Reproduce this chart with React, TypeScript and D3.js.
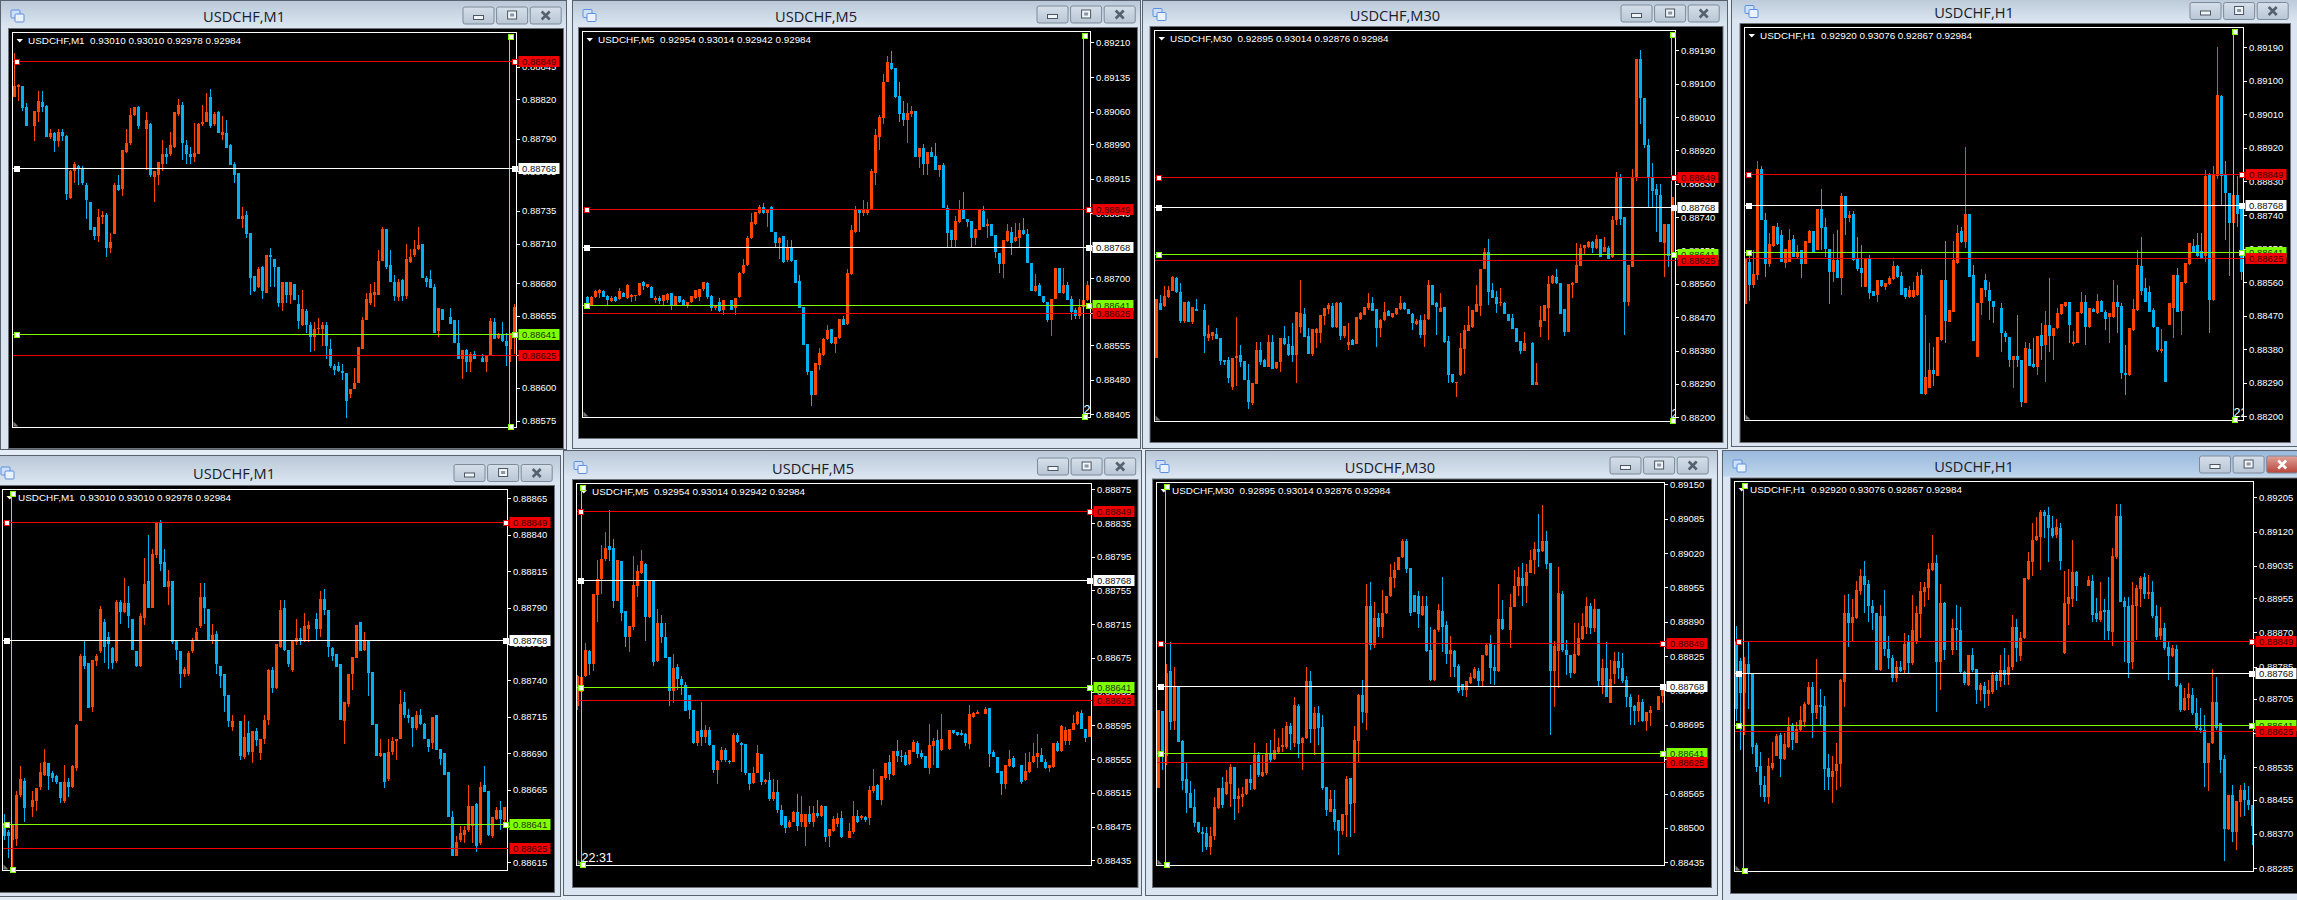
import { useEffect, useRef } from "react";
import * as d3 from "d3";

// prices are in points above 0.88000, rows are open, high, low, close. null = nothing visible in that slot
type Bar = number[] | null;

const levels = [
  { value: 849, color: "#f00000", text: "#3a0000" },
  { value: 768, color: "#ffffff", text: "#101010" },
  { value: 641, color: "#7fff00", text: "#1d3300" },
  { value: 625, color: "#f00000", text: "#3a0000" },
];

const headerM1 = "USDCHF,M1  0.93010 0.93010 0.92978 0.92984";
const headerM5 = "USDCHF,M5  0.92954 0.93014 0.92942 0.92984";
const headerM30 = "USDCHF,M30  0.92895 0.93014 0.92876 0.92984";
const headerH1 = "USDCHF,H1  0.92920 0.93076 0.92867 0.92984";

const ticksA = [845, 820, 790, 765, 735, 710, 680, 655, 625, 600, 575];
const ticksB = [1210, 1135, 1060, 990, 915, 840, 770, 700, 625, 555, 480, 405];
const ticksC = [1190, 1100, 1010, 920, 830, 740, 650, 560, 470, 380, 290, 200];
const ticksD = [1190, 1100, 1010, 920, 830, 740, 650, 560, 470, 380, 290, 200];
const ticksE = [865, 840, 815, 790, 765, 740, 715, 690, 665, 640, 615];
const ticksF = [875, 835, 795, 755, 715, 675, 635, 595, 555, 515, 475, 435];
const ticksG = [1150, 1085, 1020, 955, 890, 825, 760, 695, 630, 565, 500, 435];
const ticksH = [1205, 1120, 1035, 955, 870, 785, 705, 620, 535, 455, 370, 285];

const datesA = ["21 Dec 2020", "21 Dec 14:43", "21 Dec 14:59", "21 Dec 15:15", "21 Dec 15:31", "21 Dec 15:47", "21 Dec 16:03", "21 Dec 16:19"];
const datesB = ["21 Dec 2020", "21 Dec 07:25", "21 Dec 08:45", "21 Dec 10:05", "21 Dec 11:25", "21 Dec 12:45", "21 Dec 14:05", "21 Dec 15:25"];
const datesC = ["17 Dec 2020", "17 Dec 08:00", "17 Dec 16:00", "18 Dec 00:00", "18 Dec 08:00", "18 Dec 16:00", "21 Dec 00:00", "21 Dec 08:00", "21 Dec 16:00"];
const datesD = ["14 Dec 2020", "15 Dec 06:00", "15 Dec 22:00", "16 Dec 14:00", "17 Dec 06:00", "17 Dec 22:00", "18 Dec 14:00", "21 Dec 06:00"];
const datesE = ["21 Dec 2020", "21 Dec 16:45", "21 Dec 17:01", "21 Dec 17:17", "21 Dec 17:33", "21 Dec 17:49", "21 Dec 18:05", "21 Dec 18:21"];
const datesF = ["21 Dec 2020", "21 Dec 17:45", "21 Dec 19:05", "21 Dec 20:25", "21 Dec 21:45", "21 Dec 23:05", "22 Dec 00:25", "22 Dec 01:45", "22 Dec 03:05"];
const datesG = ["21 Dec 2020", "21 Dec 23:30", "22 Dec 07:30", "22 Dec 15:30", "22 Dec 23:30", "23 Dec 07:30", "23 Dec 15:30", "23 Dec 23:30"];
const datesH = ["21 Dec 2020", "22 Dec 06:00", "22 Dec 22:00", "23 Dec 14:00", "24 Dec 06:00", "24 Dec 22:00", "28 Dec 14:00", "29 Dec 06:00", "29 Dec 22:00"];

const barsA: Bar[] = [
  [822,855,822,830],[829,832,819,831],[830,830,811,813],[814,817,800,800],null,[800,811,788,811],[810,826,803,819],[818,826,810,814],[815,816,791,791],[791,797,790,794],
  [794,795,780,788],[788,797,784,795],[795,797,788,792],[792,793,743,748],[745,766,744,765],[765,772,756,771],[769,770,755,767],[768,769,755,756],[755,756,729,743],[742,742,720,720],
  [723,723,713,716],[716,736,711,730],[730,735,725,732],[732,733,700,707],[707,718,703,711],[717,756,717,755],[755,762,750,751],[752,781,746,781],[780,797,779,787],[787,813,785,808],
  [808,814,807,814],[814,815,797,800],null,[797,810,766,804],[801,802,761,762],[761,765,742,765],[762,772,755,772],[771,789,765,778],[778,783,771,776],[778,795,777,785],
  [784,810,783,810],[809,820,807,816],[816,818,774,787],[785,789,771,778],[778,784,771,776],[776,802,772,779],[778,802,778,801],[801,816,800,803],[803,825,803,810],[822,828,798,800],
  [801,810,800,809],[810,811,794,794],[793,807,789,795],[794,804,783,783],[785,786,770,770],[771,772,756,762],[764,764,729,729],[729,738,722,731],[732,735,714,717],[718,718,671,684],
  [685,685,673,674],[677,692,676,691],[692,693,668,674],[672,701,672,701],[701,707,677,700],[698,698,677,692],[692,692,662,665],[665,681,659,681],[681,681,665,671],[671,681,664,681],
  [679,679,667,667],[664,671,645,651],[648,675,647,660],[659,660,642,648],[648,650,627,639],[639,650,628,645],[645,653,640,646],[645,650,632,648],[648,650,622,632],[630,637,615,617],
  [617,618,610,614],[617,620,612,613],[613,618,606,611],[611,611,577,590],[595,599,592,599],[599,615,599,604],[604,631,604,631],[630,654,630,652],[652,672,652,668],[665,679,663,672],
  [671,681,662,673],[671,705,671,697],[697,723,697,721],[721,721,691,692],[694,705,681,681],[681,686,666,670],[669,683,666,681],[682,683,666,670],[670,710,668,698],[696,706,695,700],
  [701,713,700,706],[706,723,705,709],[710,710,684,684],[684,685,677,681],[683,690,676,676],[677,679,642,642],[643,661,639,661],[660,660,652,652],null,[654,661,649,649],
  [652,652,634,634],[634,652,622,622],[622,629,607,629],[629,630,612,620],[620,627,612,626],[626,628,622,622],null,[623,626,620,620],[620,625,612,625],[625,653,625,651],
  [650,653,637,637],[638,642,637,641],[641,650,635,636],[636,642,617,632],[630,642,620,642],[639,664,626,662],
];

const barsB: Bar[] = [
  null,[658,661,640,645],[642,660,642,658],[658,674,657,671],[667,676,656,673],[672,675,658,658],[661,663,642,653],[650,660,647,657],[659,662,647,651],[654,678,652,671],
  [667,670,658,658],[656,686,655,685],[658,665,648,663],[660,664,650,664],[664,690,662,689],[691,693,675,682],[681,686,678,686],[681,683,656,656],[653,660,645,657],[656,660,644,650],
  [650,664,640,663],[652,667,645,665],[667,668,631,642],[642,660,640,660],[660,661,645,649],[652,655,640,642],[641,649,636,649],[649,660,645,660],[656,675,655,674],[658,676,650,676],
  [676,692,672,692],[690,692,655,658],[660,663,628,634],[634,642,630,642],[647,657,626,628],[631,652,620,652],null,[652,653,630,631],[634,657,620,657],[658,712,656,710],
  [710,740,708,728],[728,790,726,787],[787,840,785,822],[817,842,815,842],[840,858,838,853],[853,862,838,840],[840,850,811,847],[854,856,800,800],[799,799,764,775],[775,788,741,787],
  [790,790,732,734],[738,782,735,768],[768,782,735,736],[739,739,689,689],[694,707,636,636],[638,638,555,555],[557,557,490,497],[499,499,422,447],[447,515,447,515],[512,548,501,537],
  [533,570,531,569],[567,598,565,588],[589,590,558,559],[558,573,537,573],[570,611,569,611],[611,617,598,598],[600,719,598,710],[709,815,707,804],[800,856,798,847],[847,848,800,840],
  [840,869,834,847],[840,865,836,847],[847,935,847,932],[927,1022,901,1010],[1006,1052,977,1048],[1046,1142,1033,1124],[1124,1181,1124,1168],[1166,1191,1150,1152],[1154,1154,1090,1091],[1093,1125,1038,1055],
  [1058,1082,1029,1042],[1042,1078,993,1058],[1055,1072,1048,1062],[1062,1062,961,961],[961,981,937,981],[981,991,923,947],[947,973,923,973],[973,984,961,961],[965,992,934,934],[934,945,919,945],
  [945,948,851,851],[851,858,764,798],[804,804,768,782],[782,834,768,823],[822,869,820,849],[849,886,828,828],[828,828,811,822],[824,824,764,787],[787,806,771,806],[804,849,804,849],
  [846,856,811,811],[813,827,786,817],[817,817,790,791],[792,792,743,757],[755,755,710,730],[730,782,699,782],[779,817,778,802],[800,811,750,775],[779,818,777,788],[786,818,768,804],
  [804,829,794,795],[795,805,732,732],[732,732,672,672],[671,709,670,683],[684,689,660,660],[660,660,645,647],[649,649,604,609],[610,655,575,654],[654,722,654,722],[722,722,667,667],
  [667,722,666,685],[685,691,652,652],[655,661,608,627],[630,634,611,618],[618,654,611,638],[638,654,636,652],[652,694,650,685],
];

const barsC: Bar[] = [
  [361,518,361,518],[509,530,490,490],[500,554,498,527],[525,554,523,543],[542,581,540,578],[576,579,535,537],[537,561,455,461],[461,512,455,512],[512,514,458,458],[458,497,452,497],
  [491,518,486,488],null,[489,505,374,418],[413,449,407,425],[419,429,408,429],[425,440,410,410],[414,414,340,352],[354,355,340,350],[355,364,292,305],[283,360,274,359],
  [361,470,285,365],[367,395,335,350],[353,353,301,301],[301,344,222,240],[238,293,234,292],[290,404,290,382],[382,404,341,350],[355,358,335,337],[337,422,335,404],[404,422,330,330],
  [332,350,330,350],[348,415,323,415],[415,446,395,398],[397,419,365,368],[392,455,350,368],[368,485,293,485],[443,570,427,482],[480,494,417,417],[419,440,370,372],[371,437,365,437],
  [427,440,386,437],[428,476,400,476],[474,494,450,494],[491,507,480,502],[500,508,440,443],[443,510,440,509],[507,512,408,419],[419,446,415,446],[395,455,382,404],[408,410,395,395],
  [399,470,397,470],[465,483,463,481],[476,497,475,497],[494,535,490,509],[509,524,488,488],[491,491,390,440],[440,465,416,462],[462,512,460,485],[487,490,472,472],[470,482,468,481],
  [479,495,477,494],[492,527,490,509],[509,510,490,491],[491,491,478,479],[480,482,435,455],[452,465,450,460],[462,476,413,422],[422,480,390,462],[464,570,462,558],[558,558,503,503],
  [507,510,422,497],[485,535,483,494],[497,497,400,404],[407,419,292,314],[317,317,292,296],[292,296,256,296],[314,427,312,386],[384,448,318,435],[434,500,432,449],[444,490,442,489],
  [485,557,483,505],[500,601,473,601],[601,658,600,647],[647,681,503,539],[543,561,522,522],[524,540,482,505],[509,548,500,512],[509,510,478,479],[480,480,460,461],[467,480,437,437],
  [440,440,404,404],[407,407,372,380],[380,431,378,400],null,[401,402,287,287],[287,346,286,294],[444,500,417,462],[460,503,459,502],[494,581,408,559],[561,584,560,581],
  [579,599,560,561],[563,563,480,480],[491,491,418,431],[431,560,431,559],[558,566,521,562],[563,669,561,611],[609,667,607,656],[656,665,638,665],[660,676,658,674],[674,676,642,656],
  [656,692,654,680],[680,680,633,633],[647,686,645,660],[658,662,626,626],[632,743,630,732],[732,861,719,846],[849,856,719,735],[741,741,422,512],[512,612,500,612],[606,870,606,849],
  [849,1167,838,1166],[1166,1191,991,1060],[1060,1060,927,934],[934,950,766,849],[849,885,764,811],[815,830,700,800],[800,829,672,672],[669,722,578,721],[721,722,606,635],[635,793,633,793],
];

const barsD: Bar[] = [
  [501,624,501,624],[613,644,510,552],[552,646,545,582],[579,885,567,863],[863,872,726,727],[727,745,575,608],[608,691,600,662],[657,711,655,711],[707,718,660,661],[686,700,615,615],
  [610,650,597,650],[615,703,613,673],[676,686,628,628],[628,659,626,642],[645,646,570,608],[608,670,608,670],[666,701,665,698],[696,696,642,642],[646,755,646,755],[755,810,646,704],
  [707,733,628,650],[650,650,501,588],[588,688,561,619],[619,700,570,570],[572,798,525,791],[791,792,686,731],[732,751,722,741],[742,751,618,619],[621,680,590,595],[598,659,547,585],
  [547,624,547,623],[623,632,516,531],[535,536,522,522],[525,565,507,565],[565,565,548,549],[546,557,540,557],[555,576,553,570],[568,616,567,604],[604,606,570,573],[576,588,525,525],
  [543,545,515,521],[519,549,517,539],[521,561,518,539],[525,588,523,576],[579,594,261,261],[261,472,258,305],[277,396,275,324],[324,387,280,314],[308,412,308,412],[405,566,403,566],
  [566,670,396,457],[454,485,452,485],[481,671,480,619],[610,712,608,691],[697,708,665,668],[668,923,651,743],[743,743,575,575],[579,606,403,403],[360,505,358,505],[505,545,471,543],
  [567,582,520,538],[539,561,458,509],[509,510,449,492],null,[490,503,373,423],[423,430,400,414],[414,414,333,350],[350,362,275,362],[362,472,333,350],[351,351,224,239],
  [237,400,236,382],[380,396,335,336],[340,409,330,333],[333,415,311,415],[418,449,351,389],[391,483,293,445],[445,570,373,415],[415,436,351,436],[436,490,435,476],[474,501,472,501],
  [496,508,494,508],[508,508,396,445],[394,430,388,400],[398,481,396,481],[476,534,474,507],[507,525,391,440],[440,490,438,490],[488,490,480,481],[476,528,474,509],[509,512,480,481],
  [481,485,432,460],[467,478,396,476],[467,567,465,507],[507,552,423,494],[496,505,300,315],[317,391,257,311],[311,436,309,436],[431,516,429,487],[485,646,483,606],[604,680,525,537],
  [543,570,507,508],[534,549,480,481],[485,490,436,439],[439,439,372,379],[375,433,369,380],[403,403,293,293],[445,503,444,503],[490,579,409,579],[579,597,480,481],[482,561,417,561],
  [557,610,555,610],[608,666,606,665],[658,675,640,642],[659,691,628,630],[644,691,625,626],[630,860,615,845],[847,854,423,512],[512,872,510,847],[845,1191,836,1062],[1060,1061,767,845],
  [847,885,673,800],[798,798,576,719],[719,811,606,794],[794,845,707,744],[762,762,567,588],
];

const barsE: Bar[] = [
  [642,648,630,633],[636,637,618,633],[630,641,612,641],[631,664,626,661],[661,681,660,672],[671,673,643,652],null,[653,664,646,658],[657,666,650,666],[667,683,665,677],
  [675,693,674,684],[683,683,665,674],[676,678,670,673],[674,675,669,670],[670,670,656,659],[657,682,656,670],[670,673,660,667],[667,682,666,681],[680,710,678,709],[712,758,712,757],
  [757,768,748,750],[752,752,721,721],[722,754,718,754],[753,758,750,757],[760,791,759,789],[780,782,752,763],[770,773,748,765],[762,763,748,752],[753,795,752,794],[794,795,779,787],
  [787,810,786,793],[793,805,776,784],[782,782,761,761],[760,760,749,750],[750,786,749,784],[783,824,778,806],[808,840,790,790],[790,830,790,827],[826,849,824,848],[849,850,815,820],
  [821,830,804,804],[804,816,792,808],[808,808,765,766],[767,767,754,761],[760,760,735,744],[744,749,742,748],[744,760,743,759],[760,769,759,767],[768,776,767,773],[777,807,776,797],
  [797,807,779,790],[789,789,768,768],[768,779,765,771],[772,774,744,751],[750,750,735,743],[744,744,718,729],[730,730,708,712],[708,716,705,712],null,[712,712,685,688],
  [687,716,686,701],[704,712,689,691],[691,705,683,705],[705,707,695,699],[690,700,685,700],[700,716,696,713],[713,748,709,747],[747,749,731,735],[735,765,734,765],[763,795,762,788],
  [790,795,760,761],[761,761,749,751],[747,767,746,767],[766,782,764,769],[769,776,764,767],[768,786,766,777],[775,781,766,778],null,[782,786,768,775],[775,801,770,796],
  [796,803,785,788],[788,788,756,763],[762,763,753,757],[758,758,749,749],[751,751,713,713],[712,725,696,725],[724,744,722,744],[744,756,733,756],[755,778,755,778],[780,780,760,760],
  [761,773,760,768],[767,767,729,745],[746,746,709,709],[710,710,688,688],[688,700,687,690],[690,690,666,670],[672,700,671,691],[691,701,689,698],[698,700,685,700],[700,733,700,724],
  [725,732,714,716],[716,720,711,714],[715,715,694,707],[707,719,706,716],[716,720,709,710],[710,711,700,700],[700,700,691,694],[697,715,693,715],[716,716,692,692],[693,693,682,686],
  [690,690,675,675],[677,677,646,646],[646,650,619,619],[619,633,619,629],[630,640,629,635],[634,640,628,637],[637,668,636,654],[640,654,628,654],[655,656,622,626],[628,670,627,667],
  [668,681,663,663],[664,664,633,634],[633,646,632,646],[645,653,644,651],[651,657,637,645],[644,653,640,653],
];

const barsF: Bar[] = [
  [618,655,613,653],[635,654,617,652],[653,693,652,684],[683,684,655,668],[668,751,660,751],[750,791,718,769],[769,809,751,792],[792,824,790,805],[808,850,790,803],[805,816,734,743],
  [743,791,742,791],[790,790,719,728],[731,731,688,700],[700,713,682,713],[712,796,708,761],[760,785,747,778],[776,803,775,790],[787,788,695,724],[724,767,722,767],[766,766,665,670],
  [671,733,670,717],[716,726,693,700],[700,716,675,675],[676,676,618,636],[636,680,621,663],[664,668,637,650],[650,653,631,643],[643,647,612,612],[631,631,603,613],[613,613,573,574],
  [574,588,570,588],[590,623,570,581],[581,595,574,590],[590,593,570,572],[572,572,539,542],[542,554,526,553],[554,569,552,566],[566,568,552,554],[553,554,549,551],[552,586,551,584],
  [584,586,574,575],[574,575,540,572],[573,573,536,538],[539,539,518,526],[527,546,526,538],[539,572,538,562],[561,561,524,528],[528,531,526,530],[530,540,505,508],[508,531,505,516],
  [516,530,491,495],[495,501,476,477],[488,488,467,473],[475,483,473,481],[481,493,480,492],[492,514,470,476],[481,511,475,490],[475,490,452,490],[490,499,478,481],[481,499,475,491],
  [491,507,485,487],[488,501,486,499],[499,499,457,463],[464,472,451,472],[470,487,469,484],[478,491,474,485],[485,493,462,463],null,[462,479,461,470],[468,505,466,488],
  [488,495,479,480],[485,489,483,488],[486,488,480,483],[485,523,477,518],[517,543,515,523],[524,526,506,507],[507,535,500,535],[533,550,530,550],[551,560,530,537],[536,565,535,565],
  [565,578,552,559],[559,566,552,557],[560,564,547,548],[549,566,548,566],[564,578,563,575],[574,577,556,561],[562,566,555,558],[559,559,545,545],[545,597,537,572],[570,580,548,577],
  [578,590,545,545],[566,609,565,579],null,[567,589,566,589],[590,590,585,586],[587,587,583,584],[586,590,583,584],[585,586,570,574],[573,619,567,609],[605,611,604,610],
  [609,613,608,611],null,[609,617,608,615],[616,616,546,561],[563,566,557,558],[558,558,539,539],[541,541,512,525],[525,548,519,548],[547,566,546,555],[556,559,545,546],
  null,[548,548,526,528],[530,562,529,541],[540,563,539,552],[552,574,550,559],[557,585,544,562],[560,568,551,551],[551,555,543,545],[544,548,540,548],[546,574,545,574],
  [574,577,564,565],[565,596,564,594],[576,593,572,590],[576,591,572,591],[590,607,589,598],[597,612,596,611],[610,613,591,591],[591,591,575,580],[581,606,581,606],
];

const barsG: Bar[] = [
  [575,724,575,724],[721,722,610,638],[636,811,619,794],[796,852,685,701],[703,805,685,768],[767,767,663,663],[664,667,572,588],[592,622,528,567],[567,588,537,537],[539,573,502,510],
  [512,512,490,492],[492,502,455,489],[490,501,458,463],[463,501,449,485],[485,559,477,539],[537,575,535,575],[575,597,537,543],[565,610,563,586],[584,621,540,615],[616,616,515,555],
  [555,575,528,560],[558,577,540,565],[565,592,563,592],[592,619,572,585],[573,660,572,638],[638,644,597,600],[598,638,597,606],[603,661,601,642],[642,666,622,629],[630,687,628,647],
  [644,670,642,654],[653,689,644,657],[654,701,650,693],[693,698,647,678],[660,747,654,733],[731,735,632,659],[660,672,610,671],[670,804,668,778],[778,797,660,688],[688,729,638,717],
  [717,731,657,689],[690,714,572,576],[578,578,522,534],[530,572,530,555],[535,572,496,512],[515,515,449,495],[495,526,486,526],[525,598,483,592],[594,594,482,545],[547,692,490,666],
  [664,753,625,752],[751,780,698,720],[717,962,685,920],[919,965,837,846],[846,928,840,898],[898,906,862,881],[880,951,860,906],[906,939,905,939],[938,999,937,974],[973,1003,953,988],
  [988,1012,987,1012],[1012,1046,1011,1043],[1043,1046,982,989],[991,991,900,906],[940,941,908,908],[938,948,879,904],[903,938,900,920],[919,938,833,834],[836,881,778,779],[779,876,778,875],
  [874,923,871,912],[911,975,833,881],[884,892,811,829],[829,863,786,837],[835,837,786,805],[806,811,755,759],[772,773,750,760],[760,777,748,777],[775,794,773,786],[783,804,782,800],
  [797,802,768,778],[778,827,769,827],[827,849,826,846],[847,865,772,802],[805,846,770,796],[797,962,795,895],[895,931,875,876],null,[875,943,841,918],[918,988,917,958],
  [957,994,938,975],[972,1001,920,958],[957,1000,925,984],[983,1026,982,1007],[1006,1041,981,1027],[1027,1094,994,1022],[1024,1111,1022,1043],[1043,1062,989,999],[1002,1002,675,797],[797,854,729,844],
  [835,993,764,944],[943,949,832,837],[836,856,789,827],[827,827,784,794],[794,887,791,829],[827,887,826,859],[858,907,856,882],[881,937,866,920],[920,926,866,879],[878,933,871,915],
  [914,914,767,777],[770,819,753,802],[802,851,747,747],[737,818,737,781],[792,833,773,815],[815,832,782,802],[802,830,775,777],[780,787,729,747],[748,754,695,729],[731,733,695,722],
  [722,751,701,738],[738,743,700,703],[703,719,684,719],[718,731,692,724],null,[724,750,723,750],[749,767,737,764],
];

const barsH: Bar[] = [
  [845,885,650,680],[798,805,578,720],[720,809,615,791],[792,846,679,767],[768,768,569,586],[590,594,524,536],[538,574,462,491],[491,513,450,460],[460,557,445,538],[532,598,527,545],
  [563,617,562,612],[615,619,512,555],[555,619,553,593],[586,660,582,635],[639,644,579,603],[596,648,594,629],[627,687,623,652],[648,698,636,692],[692,747,690,733],[733,746,607,669],
  [669,803,656,689],[689,728,640,685],[687,711,478,530],[532,569,478,512],[512,563,447,525],[526,596,478,544],[543,755,487,751],[746,962,685,917],[917,964,834,893],[893,952,847,907],
  [906,998,902,975],[972,1028,963,1010],[1010,1047,917,987],[989,1000,896,935],[935,949,875,917],[917,919,776,776],[776,938,775,911],[911,975,810,828],[829,860,780,805],[807,814,747,756],
  [756,798,747,785],[783,799,772,775],[776,869,768,842],[845,863,768,793],[794,962,790,875],[846,935,842,917],[915,995,855,972],[970,995,933,983],[981,1041,950,1026],[1024,1111,1022,1041],
  [1041,1061,673,797],[797,991,727,942],[942,946,801,826],null,[826,904,813,880],[880,938,826,876],[876,932,768,772],[772,775,739,745],[739,813,737,813],[813,830,771,776],
  [778,780,693,727],[727,745,700,738],[737,747,683,717],[717,751,687,727],[722,772,718,764],[763,772,727,750],[750,813,735,776],[776,832,739,764],[764,813,739,785],[783,913,776,884],
  [884,904,797,830],[811,871,799,855],[855,1004,853,1004],[1002,1070,1000,1047],[1045,1142,1010,1100],[1098,1157,1096,1108],[1107,1173,1024,1169],[1169,1173,1105,1158],[1160,1182,1045,1130],[1130,1158,1105,1108],
  [1111,1152,1105,1132],[1130,1142,1024,1047],[818,1022,816,942],[940,1026,888,958],[953,1099,933,1020],[1020,1022,948,985],null,null,[985,1009,984,999],[997,1012,896,913],
  [917,954,896,904],[900,994,896,923],[926,952,851,921],[925,1008,851,874],[871,1080,837,1059],[1057,1188,1053,1158],[1158,1188,944,946],[948,958,797,933],[935,958,757,795],[797,995,780,937],
  [935,987,850,980],[977,1010,933,1004],[1008,1016,952,966],[964,1012,952,970],[969,998,906,910],[911,937,851,859],[860,932,851,880],[880,892,826,830],[834,846,752,811],[810,838,808,830],
  [828,838,735,736],[739,743,671,677],[677,731,675,706],[706,743,677,717],[714,731,664,669],[669,706,627,633],[633,681,620,627],[627,665,487,546],[545,596,477,596],[594,780,592,696],
  [696,760,627,632],[644,644,520,553],[555,565,303,382],[382,466,380,466],[466,491,350,375],[375,452,330,452],[450,491,412,478],[478,495,413,454],[454,488,429,441],[441,441,342,388],
];

const fmt = (v: number) => (0.88 + v / 100000).toFixed(5);
const step = 4; // one bar every 4 px, a date tick every 16 bars
const uiFont = "'Liberation Sans', Arial, sans-serif";

const panels = [
  { title: "USDCHF,M1", header: headerM1, bars: barsA, ticks: ticksA, dates: datesA, win: [0, 0, 566, 449], client: [9, 29, 563, 448], plot: [12.5, 32.5, 516.5, 427.5], firstBar: 13.9, yRef: [575, 420.7, 820, 99.3], vX: 509.5, clock: false, titleX: 244, titleY: 17, btn: [463, 7], active: false },
  { title: "USDCHF,M5", header: headerM5, bars: barsB, ticks: ticksB, dates: datesB, win: [572, 0, 1140, 448], client: [579, 28, 1137, 438], plot: [582.5, 31.5, 1090.5, 417.5], firstBar: 583.3, yRef: [405, 414.3, 1210, 42.3], vX: 1083.5, clock: true, titleX: 816, titleY: 16.5, btn: [1037, 6], active: false },
  { title: "USDCHF,M30", header: headerM30, bars: barsC, ticks: ticksC, dates: datesC, win: [1142, 0, 1727, 448], client: [1150.5, 27, 1722.5, 442], plot: [1154.5, 30.5, 1675.5, 421.5], firstBar: 1155.8, yRef: [200, 417.3, 1190, 50.3], vX: 1671.5, clock: true, titleX: 1395, titleY: 15.5, btn: [1621, 5], active: false },
  { title: "USDCHF,H1", header: headerH1, bars: barsD, ticks: ticksD, dates: datesD, win: [1731, -3, 2297, 446], client: [1740.5, 24, 2290, 442], plot: [1744.5, 27.5, 2243.5, 420.5], firstBar: 1745.4, yRef: [200, 416.3, 1190, 47.3], vX: 2233.5, clock: true, titleX: 1974, titleY: 12.5, btn: [2190, 2.5], active: false },
  { title: "USDCHF,M1", header: headerM1, bars: barsE, ticks: ticksE, dates: datesE, win: [-3, 455, 560, 896], client: [0, 486, 554, 892], plot: [2.5, 489.5, 507.5, 870.5], firstBar: 3.7, yRef: [615, 862.3, 865, 498.3], vX: 11.5, clock: false, titleX: 234, titleY: 474, btn: [454, 464.5], active: false },
  { title: "USDCHF,M5", header: headerM5, bars: barsF, ticks: ticksF, dates: datesF, win: [563, 450, 1141, 895], client: [573, 480, 1137.5, 887], plot: [576.5, 483.5, 1091.5, 865.5], firstBar: 577.3, yRef: [435, 860.3, 875, 489.3], vX: 581.5, clock: true, titleX: 813, titleY: 468.5, btn: [1037.5, 458], active: false },
  { title: "USDCHF,M30", header: headerM30, bars: barsG, ticks: ticksG, dates: datesG, win: [1145, 450, 1717, 895], client: [1153, 479.5, 1711, 887], plot: [1156.5, 482.5, 1664.5, 865.5], firstBar: 1157.7, yRef: [435, 862.3, 1150, 484.3], vX: 1165.5, clock: false, titleX: 1390, titleY: 467.5, btn: [1610, 457], active: false },
  { title: "USDCHF,H1", header: headerH1, bars: barsH, ticks: ticksH, dates: datesH, win: [1722, 450, 2300, 900], client: [1731, 478.5, 2297, 893], plot: [1734.5, 481.5, 2253.5, 871.5], firstBar: 1735.5, yRef: [285, 868, 1205, 497.3], vX: 1743.5, clock: false, titleX: 1974, titleY: 467, btn: [2199.5, 456], active: true },
];

export default function App() {
  const svgRef = useRef<SVGSVGElement | null>(null);

  useEffect(() => {
    if (!svgRef.current) return;
    const svg = d3.select(svgRef.current);
    svg.selectAll("*").remove();

    const defs = svg.append("defs");
    const grad = (id: string, a: string, b: string) => {
      const g = defs.append("linearGradient").attr("id", id).attr("x1", 0).attr("x2", 0).attr("y1", 0).attr("y2", 1);
      g.append("stop").attr("offset", "0%").attr("stop-color", a);
      g.append("stop").attr("offset", "100%").attr("stop-color", b);
    };
    grad("titleIdle", "#bac8d8", "#dbe6f1");
    grad("titleActive", "#9ab9dc", "#bdd4ec");
    grad("btnIdle", "#d5dfea", "#b9c6d5");
    grad("btnRed", "#e0a39a", "#b8453a");

    svg.append("rect").attr("width", 2297).attr("height", 900).attr("fill", "#e4edf6");

    panels.forEach((p, n) => {
      const [wl, wt, wr, wb] = p.win;
      const [cl, ct, cr, cb] = p.client;
      const [pl, pt, pr, pb] = p.plot;
      const root = svg.append("g").attr("font-family", uiFont);

      // window chrome
      root.append("rect").attr("x", wl + 0.5).attr("y", wt + 0.5).attr("width", wr - wl).attr("height", wb - wt)
        .attr("fill", "#dae5f1").attr("stroke", "#58626e");
      root.append("rect").attr("x", wl + 1).attr("y", wt + 1).attr("width", wr - wl - 1).attr("height", ct - wt - 3)
        .attr("fill", `url(#${p.active ? "titleActive" : "titleIdle"})`);
      root.append("text").attr("x", p.titleX).attr("y", p.titleY + 5).attr("text-anchor", "middle")
        .attr("font-family", "'Open Sans', sans-serif").attr("font-size", 14.6).attr("fill", "#17202b").text(p.title);

      // app icon
      const ix = wl + (n === 4 ? 4 : n === 3 ? 14 : 11);
      const iy = p.titleY - 7;
      root.append("rect").attr("x", ix).attr("y", iy).attr("width", 9).attr("height", 8).attr("rx", 1).attr("fill", "#cfe0f7").attr("stroke", "#5c8fe0");
      root.append("rect").attr("x", ix + 4).attr("y", iy + 4).attr("width", 9).attr("height", 8).attr("rx", 1).attr("fill", "#eaf2fd").attr("stroke", "#5c8fe0");

      // min / restore / close buttons
      [0, 1, 2].forEach((b) => {
        const bx = p.btn[0] + b * 33.6;
        const by = p.btn[1];
        const red = p.active && b === 2;
        root.append("rect").attr("x", bx).attr("y", by).attr("width", 31).attr("height", 17).attr("rx", 2)
          .attr("fill", `url(#${red ? "btnRed" : "btnIdle"})`).attr("stroke", "#7d8a99");
        const mx = bx + 15.5;
        const my = by + 8.5;
        if (b === 0) {
          root.append("rect").attr("x", mx - 5).attr("y", my).attr("width", 10).attr("height", 4).attr("fill", "#f2f5f8").attr("stroke", "#4a5663");
        } else if (b === 1) {
          root.append("rect").attr("x", mx - 4.5).attr("y", my - 4.5).attr("width", 9).attr("height", 8).attr("fill", "#f2f5f8").attr("stroke", "#4a5663");
          root.append("rect").attr("x", mx - 2).attr("y", my - 2).attr("width", 4).attr("height", 3).attr("fill", "#8a96a3");
        } else {
          root.append("path").attr("d", `M${mx - 4},${my - 4}L${mx + 4},${my + 4}M${mx + 4},${my - 4}L${mx - 4},${my + 4}`)
            .attr("stroke", red ? "#fff" : "#55616e").attr("stroke-width", 2.6);
        }
      });

      // client area
      root.append("rect").attr("x", cl - 1).attr("y", ct - 1).attr("width", cr - cl + 2).attr("height", cb - ct + 2).attr("fill", "#6d7278");
      root.append("rect").attr("x", cl).attr("y", ct).attr("width", cr - cl).attr("height", cb - ct).attr("fill", "#000");

      const clipPlot = `plot${n}`;
      const clipClient = `client${n}`;
      defs.append("clipPath").attr("id", clipPlot).append("rect").attr("x", pl).attr("y", pt).attr("width", pr - pl).attr("height", pb - pt);
      defs.append("clipPath").attr("id", clipClient).append("rect").attr("x", cl).attr("y", ct).attr("width", cr - cl).attr("height", cb - ct);

      // scales
      const [v0, y0, v1, y1] = p.yRef;
      const y = d3.scaleLinear().domain([v0, v1]).range([y0, y1]);
      const x = d3.scaleLinear().domain([0, 1]).range([p.firstBar, p.firstBar + step]);
      const snap = (v: number) => Math.round(v) + 0.5;

      // axes
      const axisText = (g: d3.Selection<SVGGElement, unknown, null, undefined>) => {
        g.select(".domain").remove();
        g.selectAll("line").attr("stroke", "#fff").attr("shape-rendering", "crispEdges");
        g.selectAll("text").attr("fill", "#fff").attr("font-size", 9.5).attr("font-family", uiFont);
      };
      const yAxis = root.append("g").attr("transform", `translate(${pr},0)`)
        .call(d3.axisRight(y).tickValues(p.ticks).tickSize(3).tickPadding(2.5).tickFormat((d) => fmt(+d)) as any);
      axisText(yAxis as any);

      const dateIdx = p.dates.map((_, i) => i * 16);
      const xAxis = root.append("g").attr("transform", `translate(0,${pb})`).attr("clip-path", `url(#${clipClient})`)
        .call(d3.axisBottom(x).tickValues(dateIdx).tickSize(4).tickPadding(3).tickFormat((_, i) => p.dates[i]) as any);
      axisText(xAxis as any);
      xAxis.selectAll("text").attr("text-anchor", "start").attr("dx", -1);

      // candles
      const candles = root.append("g").attr("clip-path", `url(#${clipPlot})`).attr("shape-rendering", "crispEdges");
      const rows = p.bars.map((b, i) => ({ b, i })).filter((d) => d.b !== null) as { b: number[]; i: number }[];
      const colour = (d: { b: number[] }) => (d.b[3] >= d.b[0] ? "#ff4500" : "#00b0f0");
      candles.selectAll("rect.wick").data(rows).join("rect").attr("class", "wick")
        .attr("x", (d) => Math.round(x(d.i)))
        .attr("width", 1)
        .attr("y", (d) => y(d.b[1]))
        .attr("height", (d) => Math.max(1, y(d.b[2]) - y(d.b[1])))
        .attr("fill", colour);
      candles.selectAll("rect.body").data(rows).join("rect").attr("class", "body")
        .attr("x", (d) => Math.round(x(d.i)) - 1)
        .attr("width", 3)
        .attr("y", (d) => y(Math.max(d.b[0], d.b[3])))
        .attr("height", (d) => Math.max(1, Math.abs(y(d.b[0]) - y(d.b[3]))))
        .attr("fill", colour);

      // frame
      root.append("rect").attr("x", pl).attr("y", pt).attr("width", pr - pl).attr("height", pb - pt)
        .attr("fill", "none").attr("stroke", "#fff").attr("shape-rendering", "crispEdges");
      root.append("path").attr("d", `M${pl + 1},${pb - 6}L${pl + 1},${pb - 1}L${pl + 6},${pb - 1}Z`).attr("fill", "#777");

      // header
      root.append("path").attr("d", `M${pl + 4},${pt + 6.5}L${pl + 10.5},${pt + 6.5}L${pl + 7.2},${pt + 10}Z`).attr("fill", "#fff");
      root.append("text").attr("x", pl + 15.6).attr("y", pt + 11.7).attr("fill", "#fff").attr("font-size", 9.9)
        .style("white-space", "pre").text(p.header);

      if (p.clock) {
        root.append("g").attr("clip-path", `url(#${clipPlot})`).append("text").attr("x", p.vX)
          .attr("y", pb - 4).attr("fill", "#fff").attr("font-size", 12.5).text("22:31");
      }

      // object lines
      root.append("line").attr("x1", p.vX).attr("x2", p.vX).attr("y1", pt + 3).attr("y2", pb - 2)
        .attr("stroke", "#7fff00").attr("shape-rendering", "crispEdges");
      levels.forEach((l) => {
        const ly = snap(y(l.value));
        root.append("line").attr("x1", pl).attr("x2", pr).attr("y1", ly).attr("y2", ly)
          .attr("stroke", l.color).attr("shape-rendering", "crispEdges");
      });
      const handle = (hx: number, hy: number, c: string, solid: boolean) =>
        root.append("rect").attr("x", Math.round(hx) - 2).attr("y", Math.round(hy) - 2).attr("width", 5).attr("height", 5)
          .attr("fill", solid ? c : "#fff").attr("stroke", c).attr("shape-rendering", "crispEdges");
      levels.forEach((l, i) => {
        if (i === 3) return;
        handle(pl + 3, y(l.value), l.color, l.color === "#ffffff");
        handle(pr - 3, y(l.value), l.color, l.color === "#ffffff");
      });
      handle(p.vX, pt + 3, "#7fff00", false);
      handle(p.vX, pb - 2, "#7fff00", false);

      // price tags
      levels.forEach((l) => {
        const ty = y(l.value);
        root.append("rect").attr("x", pr + 2).attr("y", Math.round(ty) - 5).attr("width", 41).attr("height", 11).attr("fill", l.color);
        root.append("text").attr("x", pr + 5.5).attr("y", Math.round(ty) + 3.5).attr("font-size", 9.5).attr("fill", l.text).text(fmt(l.value));
      });
    });
  }, []);

  return <svg ref={svgRef} width={2297} height={900} style={{ position: "fixed", left: 0, top: 0, display: "block" }} />;
}
